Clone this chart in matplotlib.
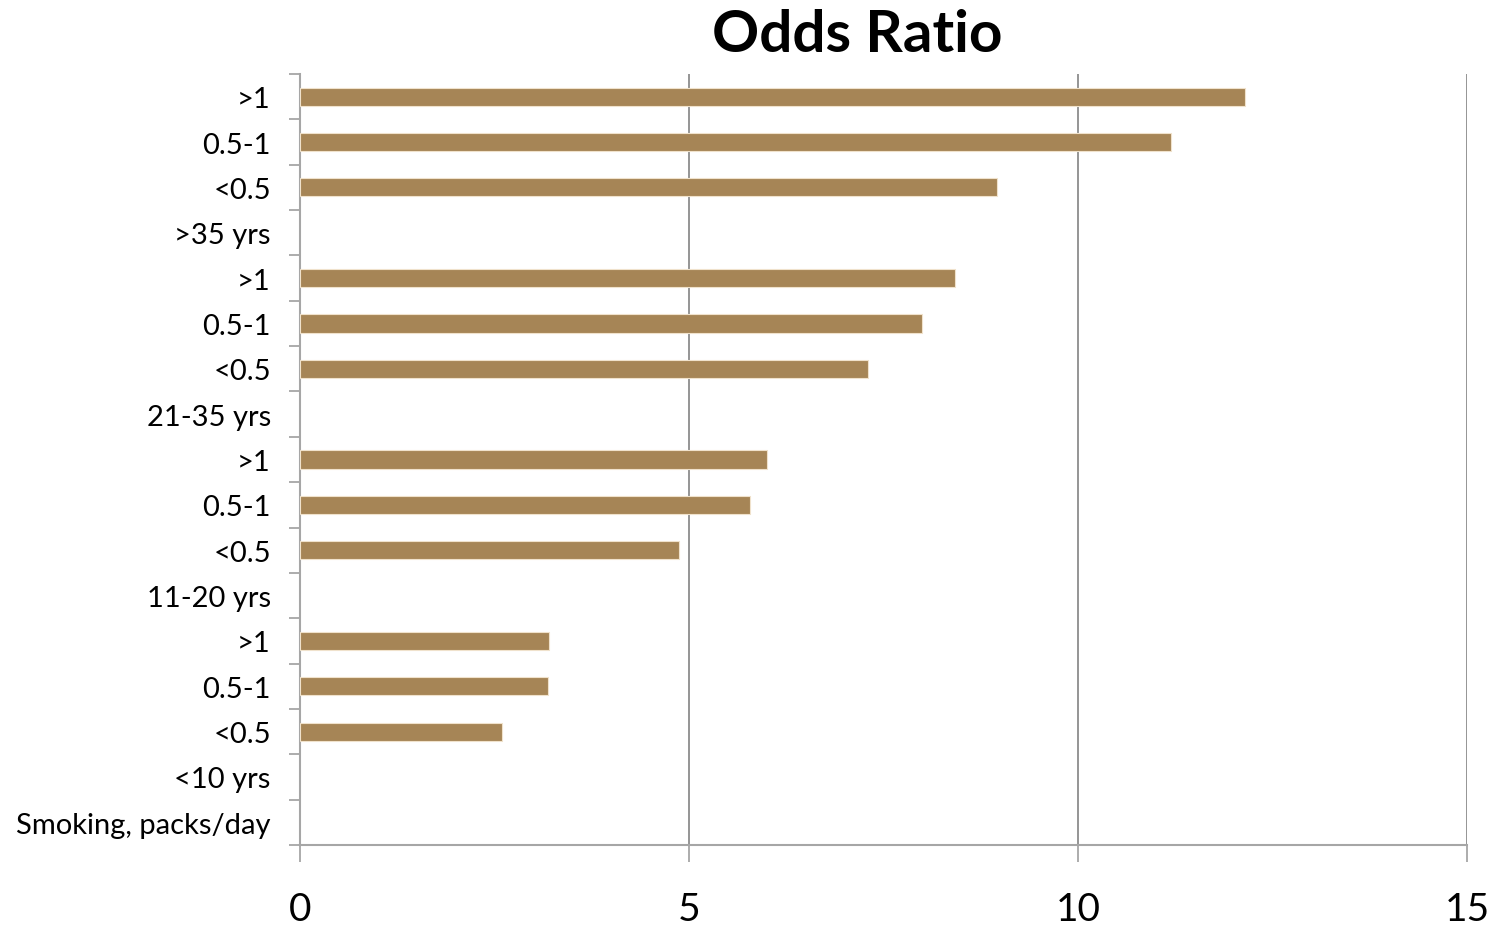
import matplotlib
matplotlib.use("Agg")
import matplotlib.pyplot as plt
import numpy as np

plt.rcParams['font.family'] = ['Lato', 'DejaVu Sans']

categories = ["Smoking, packs/day", "<10 yrs", "<0.5", "0.5-1", ">1",
              "11-20 yrs", "<0.5", "0.5-1", ">1",
              "21-35 yrs", "<0.5", "0.5-1", ">1",
              ">35 yrs", "<0.5", "0.5-1", ">1"]
odds_ratio = [np.nan, np.nan, 2.6, 3.19, 3.2,
              np.nan, 4.87, 5.78, 6.0,
              np.nan, 7.3, 8.0, 8.42,
              np.nan, 8.96, 11.2, 12.15]
x_ticks = [0, 5, 10, 15]

W, H = 1503, 928
fig = plt.figure(figsize=(W / 100, H / 100), dpi=100)
ax = fig.add_axes([300 / W, 1 - 846 / H, (1467 - 300) / W, (846 - 75) / H])

pos = np.arange(len(categories))
vals = np.array(odds_ratio, dtype=float)
has_val = ~np.isnan(vals)
ax.barh(pos[has_val], vals[has_val], height=0.4, color="#A68556",
        edgecolor="#F0E2CC", linewidth=0.8, zorder=3)

ax.set_xlim(0, 15)
ax.set_ylim(-0.5, len(categories) - 0.5)
ax.set_xticks(x_ticks)
ax.set_xticklabels([str(t) for t in x_ticks], fontsize=28)
ax.set_yticks(pos)
ax.set_yticklabels(categories, fontsize=21)
ax.set_yticks(np.arange(-0.5, len(categories), 1.0), minor=True)

grid_c = "#A6A6A6"
ax.xaxis.grid(True, color="#8C8C8C", linewidth=1.3, zorder=1)
ax.tick_params(axis="y", which="major", length=0, pad=21)
ax.tick_params(axis="y", which="minor", length=8, color=grid_c, width=1.3)
ax.tick_params(axis="x", which="major", length=12, color=grid_c, width=1.3, pad=21)

for s in ["top", "right"]:
    ax.spines[s].set_visible(False)
for s in ["left", "bottom"]:
    ax.spines[s].set_color(grid_c)
    ax.spines[s].set_linewidth(1.5)

fig.text(857 / W, 1 - 35 / H, "Odds Ratio", ha="center", va="center",
         fontsize=42, fontweight="bold")

fig.savefig("out.png", dpi=100, facecolor="white")
